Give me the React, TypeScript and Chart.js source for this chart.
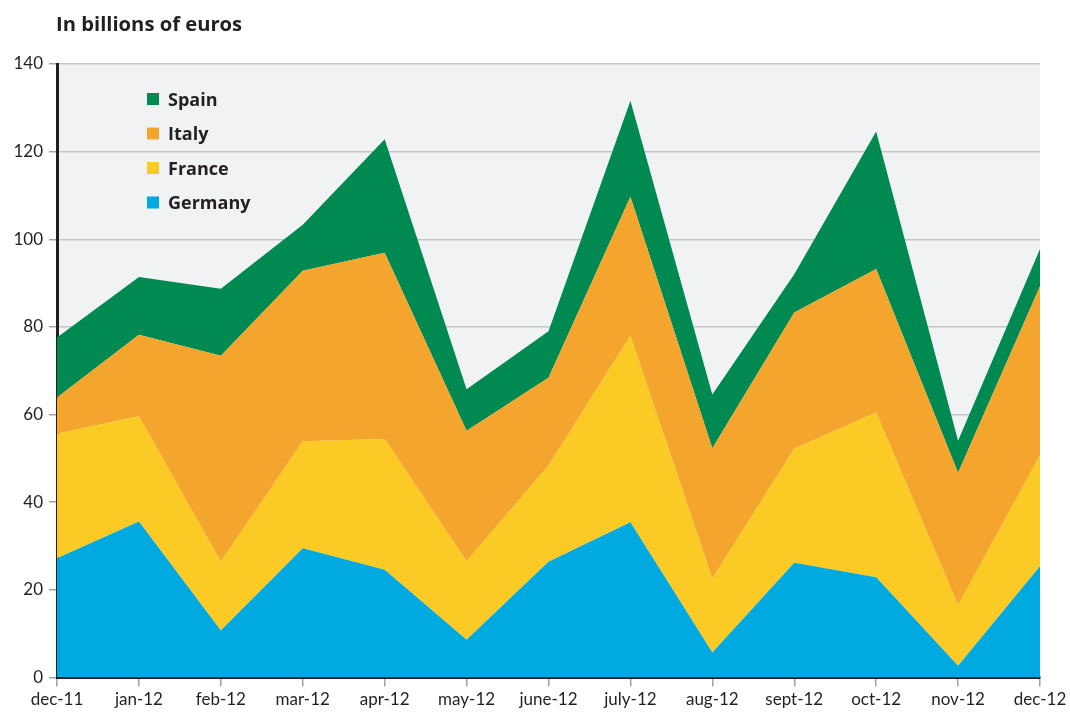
import React, { useEffect, useRef } from "react";
import { Chart, registerables } from "chart.js";

Chart.register(...registerables);

const categories = ["dec-11", "jan-12", "feb-12", "mar-12", "apr-12", "may-12", "june-12", "july-12", "aug-12", "sept-12", "oct-12", "nov-12", "dec-12"];
const germany = [27.2, 35.6, 10.7, 29.5, 24.6, 8.6, 26.4, 35.4, 5.7, 26.2, 22.9, 2.7, 25.4];
const france = [28.4, 24.0, 15.7, 24.4, 29.8, 17.9, 22.0, 42.6, 16.9, 26.0, 37.6, 13.8, 25.3];
const italy = [8.3, 18.6, 47.0, 38.9, 42.5, 29.8, 20.0, 31.7, 29.7, 31.1, 32.7, 30.2, 38.6];
const spain = [13.7, 13.2, 15.3, 10.5, 25.9, 9.5, 10.6, 21.9, 12.3, 8.7, 31.4, 7.3, 8.5];
const yTickValues = [0, 20, 40, 60, 80, 100, 120, 140];
const titleText = "In billions of euros";

const seriesNames = ["Germany", "France", "Italy", "Spain"];
const seriesColors = ["#00a9df", "#fbca24", "#f3a52e", "#008a52"];
const FONT = "Lato, 'Open Sans', sans-serif";
const BOLD_FONT = "'Open Sans', Lato, sans-serif";
const TEXT = "#231f20";

export default function App() {
  const ref = useRef<HTMLCanvasElement | null>(null);
  useEffect(() => {
    if (!ref.current) return;
    const values = [germany, france, italy, spain];
    const decor = {
      id: "decor",
      beforeDraw(chart: any) {
        const { ctx, chartArea: a } = chart;
        ctx.save();
        ctx.fillStyle = "#f1f2f4";
        ctx.fillRect(a.left, a.top, a.right - a.left, a.bottom - a.top);
        ctx.restore();
      },
      afterDraw(chart: any) {
        const { ctx, chartArea: a } = chart;
        ctx.save();
        ctx.fillStyle = TEXT;
        ctx.font = `bold 20.2px ${BOLD_FONT}`;
        ctx.textBaseline = "alphabetic";
        ctx.textAlign = "left";
        ctx.fillText(titleText, a.left - 1, 31);
        // legend (reverse order: Spain on top)
        const order = [3, 2, 1, 0];
        order.forEach((idx, row) => {
          const cy = 99 + row * 34.5;
          ctx.fillStyle = seriesColors[idx];
          ctx.fillRect(a.left + 90, cy - 6, 12, 12);
          ctx.fillStyle = TEXT;
          ctx.font = `bold 18px ${BOLD_FONT}`;
          ctx.textBaseline = "alphabetic";
          ctx.fillText(seriesNames[idx], a.left + 111, cy + 6.5);
        });
        ctx.restore();
      },
    };
    const chart = new Chart(ref.current, {
      type: "line",
      data: {
        labels: categories,
        datasets: values.map((v, i) => ({
          label: seriesNames[i],
          data: v,
          backgroundColor: seriesColors[i],
          borderColor: seriesColors[i],
          borderWidth: 0,
          pointRadius: 0,
          tension: 0,
          fill: i === 0 ? "origin" : "-1",
        })),
      },
      options: {
        responsive: false,
        animation: false,
        events: [],
        layout: { padding: { top: 64, right: 30, left: 0, bottom: 0 } },
        plugins: { legend: { display: false }, title: { display: false }, tooltip: { enabled: false } },
        scales: {
          x: {
            type: "category",
            offset: false,
            grid: { drawOnChartArea: false, tickLength: 9, tickColor: "#a0a2a5", lineWidth: 1.5 },
            border: { color: TEXT, width: 3 },
            ticks: { color: TEXT, font: { family: FONT, size: 17 }, padding: 3, maxRotation: 0, autoSkip: false },
            afterFit(scale: any) { scale.height = 37.5; },
          },
          y: {
            stacked: true,
            min: 0,
            max: 140,
            afterBuildTicks(scale: any) { scale.ticks = yTickValues.map((v) => ({ value: v })); },
            grid: { color: "#c4c5c8", lineWidth: 1.5, tickLength: 8, tickColor: "#a0a2a5" },
            border: { color: TEXT, width: 3 },
            ticks: { color: TEXT, font: { family: FONT, size: 17 }, padding: 6 },
            afterFit(scale: any) { scale.width = 57; },
          },
        },
      },
      plugins: [decor],
    } as any);
    return () => chart.destroy();
  }, []);
  return (
    <div style={{ position: "absolute", left: 0, top: 0, width: 1070, height: 715 }}>
      <canvas ref={ref} width={1070} height={715} style={{ width: 1070, height: 715, display: "block" }} />
    </div>
  );
}
